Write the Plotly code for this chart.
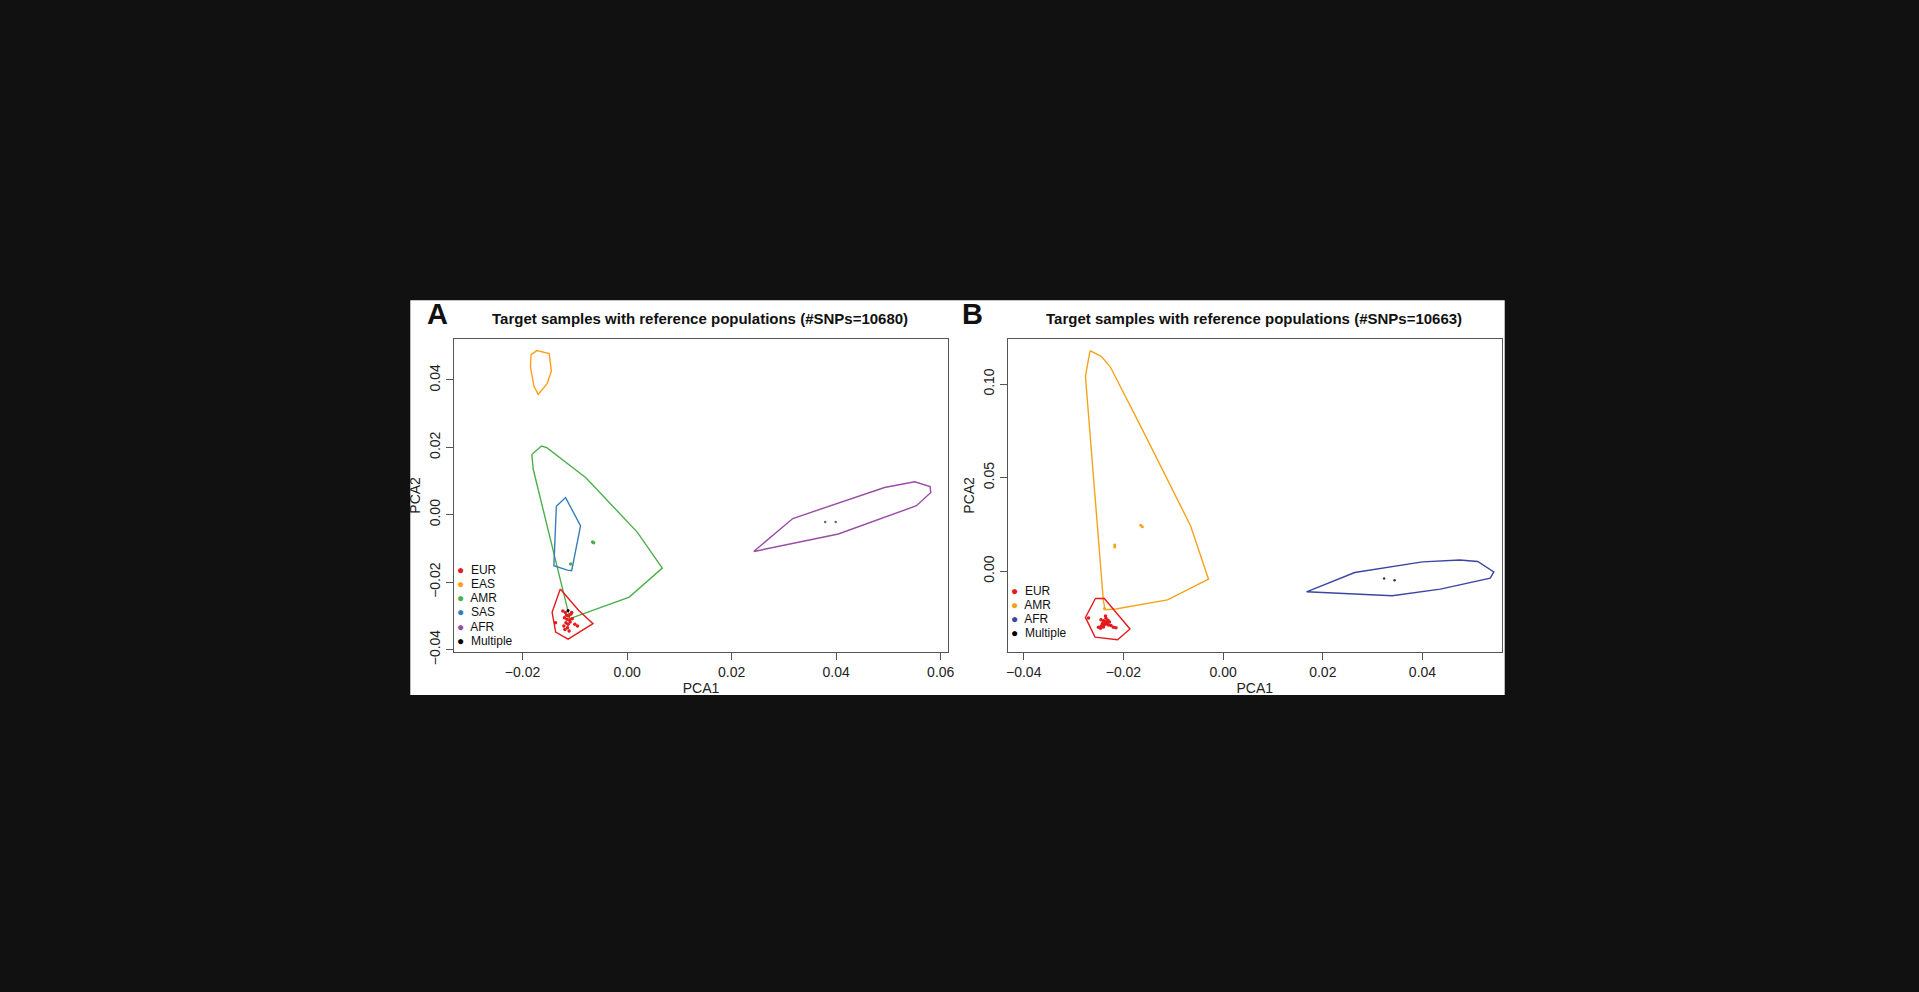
import plotly.graph_objects as go

FONT = "Liberation Sans, Arial, sans-serif"
C = {"EUR": "#E41A1C", "EAS": "#FF9F1C", "AMR": "#4DAF4A", "SAS": "#377EB8",
     "AFR": "#984EA3", "AFR_B": "#3A47A0", "AMR_B": "#F7A21B", "Multiple": "#000000"}

# ---- Panel A: hull polygons (PCA1, PCA2) ----
A_EAS_x = [-0.01837, -0.01728, -0.01490, -0.01449, -0.01531, -0.01701, -0.01782, -0.01850, -0.01837]
A_EAS_y = [0.0475, 0.0487, 0.0478, 0.0426, 0.0389, 0.0357, 0.0381, 0.0440, 0.0475]
A_AMR_x = [-0.01823, -0.01639, -0.01537, -0.00789, 0.00197, 0.00673, 0.00041, -0.01095, -0.01796, -0.01823]
A_AMR_y = [0.0179, 0.0204, 0.0199, 0.0110, -0.0052, -0.0158, -0.0244, -0.0308, 0.0135, 0.0179]
A_SAS_x = [-0.01354, -0.01177, -0.00891, -0.01061, -0.01143, -0.01401, -0.01354]
A_SAS_y = [0.0025, 0.0051, -0.0033, -0.0166, -0.0164, -0.0151, 0.0025]
A_EUR_x = [-0.01279, -0.00925, -0.00653, -0.01129, -0.01367, -0.01435, -0.01279]
A_EUR_y = [-0.0220, -0.0284, -0.0323, -0.0369, -0.0348, -0.0289, -0.0220]
A_AFR_x = [0.02422, 0.03170, 0.04925, 0.05503, 0.05796, 0.05810, 0.05537, 0.04041, 0.02422]
A_AFR_y = [-0.0109, -0.0011, 0.0081, 0.0098, 0.0084, 0.0066, 0.0027, -0.0057, -0.0109]

# ---- Panel A: target samples ----
A_pt_EUR_x = [-0.0123, -0.0118, -0.0112, -0.0108, -0.0120, -0.0115, -0.0110, -0.0105, -0.0117, -0.0113,
              -0.0100, -0.0095, -0.0121, -0.0114, -0.0109, -0.0137, -0.0119, -0.0111, -0.0106, -0.0116]
A_pt_EUR_y = [-0.0285, -0.0290, -0.0300, -0.0295, -0.0305, -0.0310, -0.0312, -0.0308, -0.0320, -0.0325,
              -0.0325, -0.0330, -0.0330, -0.0335, -0.0318, -0.0320, -0.0340, -0.0345, -0.0290, -0.0298]
A_pt_AMR_x = [-0.0066, -0.0064]
A_pt_AMR_y = [-0.0081, -0.0083]
A_pt_SAS_x = [-0.0108]
A_pt_SAS_y = [-0.0146]
A_pt_AFR_x = [0.0379, 0.0399]
A_pt_AFR_y = [-0.0021, -0.0021]
A_pt_MUL_x = [-0.0113]
A_pt_MUL_y = [-0.0284]

# ---- Panel B: hull polygons ----
B_AMR_x = [-0.02669, -0.02440, -0.02261, -0.01653, -0.00651, -0.00293, -0.01116, -0.02154, -0.02369, -0.02404, -0.02762, -0.02669]
B_AMR_y = [0.1179, 0.1147, 0.1091, 0.0774, 0.0242, -0.0043, -0.0153, -0.0202, -0.0206, -0.0153, 0.1041, 0.1179]
B_EUR_x = [-0.02562, -0.02383, -0.01868, -0.02118, -0.02569, -0.02762, -0.02562]
B_EUR_y = [-0.0146, -0.0146, -0.0309, -0.0366, -0.0352, -0.0247, -0.0146]
B_AFR_x = [0.01674, 0.02640, 0.04000, 0.04751, 0.05109, 0.05431, 0.05360, 0.04358, 0.03392, 0.01674]
B_AFR_y = [-0.0110, -0.0007, 0.0050, 0.0060, 0.0052, -0.0004, -0.0037, -0.0096, -0.0131, -0.0110]

# ---- Panel B: target samples ----
B_pt_EUR_x = [-0.0245, -0.0240, -0.0236, -0.0232, -0.0228, -0.0242, -0.0238, -0.0234, -0.0230, -0.0225,
              -0.0220, -0.0250, -0.0246, -0.0240, -0.0235, -0.0270, -0.0236, -0.0244, -0.0231, -0.0215]
B_pt_EUR_y = [-0.0260, -0.0265, -0.0270, -0.0275, -0.0272, -0.0280, -0.0285, -0.0282, -0.0288, -0.0290,
              -0.0300, -0.0300, -0.0305, -0.0298, -0.0252, -0.0250, -0.0240, -0.0292, -0.0262, -0.0302]
B_pt_AMR_x = [-0.02175, -0.02175, -0.01653, -0.01620, -0.0238]
B_pt_AMR_y = [0.0130, 0.0140, 0.0245, 0.0238, -0.0199]
B_pt_AFR_x = [0.0323, 0.0344]
B_pt_AFR_y = [-0.0039, -0.0048]

A_legend = ["EUR", "EAS", "AMR", "SAS", "AFR", "Multiple"]
B_legend = ["EUR", "AMR", "AFR", "Multiple"]
A_legend_col = [C["EUR"], C["EAS"], C["AMR"], C["SAS"], C["AFR"], C["Multiple"]]
B_legend_col = [C["EUR"], C["AMR_B"], C["AFR_B"], C["Multiple"]]

fig = go.Figure()

def poly(x, y, col, xa, ya):
    fig.add_trace(go.Scatter(x=x, y=y, mode="lines", line=dict(color=col, width=1.4),
                             xaxis=xa, yaxis=ya, showlegend=False, hoverinfo="skip"))

def pts(x, y, col, xa, ya, size=3.5):
    fig.add_trace(go.Scatter(x=x, y=y, mode="markers", marker=dict(color=col, size=size),
                             xaxis=xa, yaxis=ya, showlegend=False))

poly(A_EAS_x, A_EAS_y, C["EAS"], "x", "y")
poly(A_AMR_x, A_AMR_y, C["AMR"], "x", "y")
poly(A_SAS_x, A_SAS_y, C["SAS"], "x", "y")
poly(A_EUR_x, A_EUR_y, C["EUR"], "x", "y")
poly(A_AFR_x, A_AFR_y, C["AFR"], "x", "y")
pts(A_pt_EUR_x, A_pt_EUR_y, C["EUR"], "x", "y")
pts(A_pt_AMR_x, A_pt_AMR_y, C["AMR"], "x", "y")
pts(A_pt_SAS_x, A_pt_SAS_y, C["AMR"], "x", "y")
pts(A_pt_AFR_x, A_pt_AFR_y, "#666666", "x", "y", 2.5)
pts(A_pt_MUL_x, A_pt_MUL_y, C["Multiple"], "x", "y", 3)

poly(B_AMR_x, B_AMR_y, C["AMR_B"], "x2", "y2")
poly(B_EUR_x, B_EUR_y, C["EUR"], "x2", "y2")
poly(B_AFR_x, B_AFR_y, C["AFR_B"], "x2", "y2")
pts(B_pt_EUR_x, B_pt_EUR_y, C["EUR"], "x2", "y2")
pts(B_pt_AMR_x, B_pt_AMR_y, C["AMR_B"], "x2", "y2", 3)
pts(B_pt_AFR_x, B_pt_AFR_y, "#333355", "x2", "y2", 2.5)

ax = dict(showgrid=False, zeroline=False, showline=True, mirror=True, linecolor="#555555",
          linewidth=1.2, ticks="outside", ticklen=7, tickcolor="#555555",
          tickfont=dict(family=FONT, size=14, color="#222222"), fixedrange=True)
tf = dict(family=FONT, size=14, color="#222")
yd = [1 - 661 / 992, 1 - 344 / 992]
fig.update_layout(
    width=1919, height=992, margin=dict(l=0, r=0, t=0, b=0),
    paper_bgcolor="#111111", plot_bgcolor="white", showlegend=False,
    xaxis=dict(ax, domain=[454 / 1919, 950 / 1919], range=[-0.0331, 0.0614],
               tickvals=[-0.02, 0, 0.02, 0.04, 0.06], ticktext=["\u22120.02", "0.00", "0.02", "0.04", "0.06"],
               title=dict(text="PCA1", font=tf, standoff=3)),
    yaxis=dict(ax, domain=yd, range=[-0.0406, 0.0521], tickangle=-90,
               tickvals=[-0.04, -0.02, 0, 0.02, 0.04], ticktext=["\u22120.04", "\u22120.02", "0.00", "0.02", "0.04"],
               title=dict(text="PCA2", font=tf, standoff=3)),
    xaxis2=dict(ax, domain=[1010 / 1919, 1506 / 1919], range=[-0.0432, 0.0559], anchor="y2",
                tickvals=[-0.04, -0.02, 0, 0.02, 0.04], ticktext=["\u22120.04", "\u22120.02", "0.00", "0.02", "0.04"],
                title=dict(text="PCA1", font=tf, standoff=3)),
    yaxis2=dict(ax, domain=yd, range=[-0.0430, 0.124], anchor="x2", tickangle=-90,
                tickvals=[0, 0.05, 0.10], ticktext=["0.00", "0.05", "0.10"],
                title=dict(text="PCA2", font=tf, standoff=3)),
)
fig.add_shape(type="rect", xref="paper", yref="paper", x0=410 / 1919, x1=1509 / 1919,
              y0=1 - 705 / 992, y1=1 - 304.5 / 992, fillcolor="white", line=dict(width=0), layer="below")

def ann(x, y, text, size, bold=False, anchor="left", col="#111"):
    fig.add_annotation(xref="paper", yref="paper", x=x / 1919, y=1 - y / 992, text=("<b>%s</b>" % text) if bold else text,
                       showarrow=False, xanchor=anchor, yanchor="middle",
                       font=dict(family=FONT, size=size, color=col))

ann(425, 318, "A", 29, True, "left")
ann(962, 318, "B", 29, True, "left")
ann(701, 323, "Target samples with reference populations (#SNPs=10680)", 15, True, "center")
ann(1257, 323, "Target samples with reference populations (#SNPs=10663)", 15, True, "center")

for i, (lab, col) in enumerate(zip(A_legend, A_legend_col)):
    ann(455, 578 + i * 14.4, "<span style='color:%s'>\u25CF</span>  %s" % (col, lab), 12)
for i, (lab, col) in enumerate(zip(B_legend, B_legend_col)):
    ann(1011, 599 + i * 14.4, "<span style='color:%s'>\u25CF</span>  %s" % (col, lab), 12)

fig.write_html("out.html", config={"displayModeBar": False})
with open("out.html", encoding="utf-8") as f:
    html = f.read()
html = html.replace("<body>", "<body style=\"margin:0;background:#111111;overflow:hidden\">", 1)
with open("out.html", "w", encoding="utf-8") as f:
    f.write(html)
